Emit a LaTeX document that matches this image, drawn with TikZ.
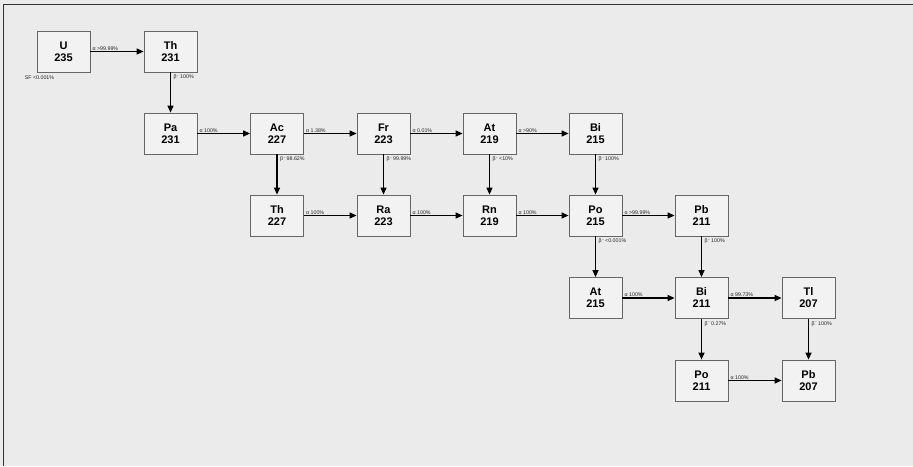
\documentclass[tikz,border=0pt]{standalone}
\usepackage{fontspec}
\setmainfont{Liberation Sans}
\usetikzlibrary{arrows.meta}
\newcommand{\hdecay}[3]{\draw[decay] (#1) -- (#2);
  \node[lab, anchor=south west] at ([xshift=2pt,yshift=1.2pt]#1.east) {#3};}
\newcommand{\vdecay}[3]{\draw[decay] (#1) -- (#2);
  \node[lab, anchor=north west] at ([xshift=3pt,yshift=-2.5pt]#1.south) {#3};}
\newcommand{\bm}{β\raisebox{0.9ex}{\fontsize{3.5}{4}\selectfont –}}
\begin{document}
\begin{tikzpicture}[x=1pt,y=-1pt,
  nuc/.style={draw=black!60, fill=black!5, line width=0.8pt, minimum width=53pt,
    minimum height=41pt, inner sep=0pt, align=center,
    font=\fontsize{11}{12}\selectfont\bfseries},
  decay/.style={-{Triangle[length=7pt,width=6pt]}, line width=1.2pt, black},
  lab/.style={font=\fontsize{5.3}{6}\selectfont, inner sep=0pt, text=black!85}]
\fill[black!8] (0,0) rectangle (913,466);
\useasboundingbox (0,0) rectangle (913,466);
\draw[black!80, line width=1pt] (3,466) -- (3,4.5) -- (913,4.5);
% nodes
\node[nuc] (U)     at (63.5,51.5)  {U\\235};
\node[nuc] (Th231) at (170.5,51.5) {Th\\231};
\node[nuc] (Pa)    at (170.5,133.5) {Pa\\231};
\node[nuc] (Ac)    at (277,133.5)  {Ac\\227};
\node[nuc] (Fr)    at (383.5,133.5) {Fr\\223};
\node[nuc] (At219) at (489.5,133.5) {At\\219};
\node[nuc] (Bi215) at (595.5,133.5) {Bi\\215};
\node[nuc] (Th227) at (277,215.5)  {Th\\227};
\node[nuc] (Ra)    at (383.5,215.5) {Ra\\223};
\node[nuc] (Rn)    at (489.5,215.5) {Rn\\219};
\node[nuc] (Po215) at (595.5,215.5) {Po\\215};
\node[nuc] (Pb211) at (701.5,215.5) {Pb\\211};
\node[nuc] (At215) at (595.5,298)  {At\\215};
\node[nuc] (Bi211) at (701.5,298)  {Bi\\211};
\node[nuc] (Tl)    at (808.5,298)  {Tl\\207};
\node[nuc] (Po211) at (701.5,380.5) {Po\\211};
\node[nuc] (Pb207) at (808.5,380.5) {Pb\\207};
\node[lab, anchor=north west] (sf) at ([xshift=-12pt,yshift=-3pt]U.south west) {SF <0.001\%};
% decays
\hdecay{U}{Th231}{α >99.99\%}
\vdecay{Th231}{Pa}{\bm\ 100\%}
\hdecay{Pa}{Ac}{α 100\%}
\hdecay{Ac}{Fr}{α 1.38\%}
\vdecay{Ac}{Th227}{\bm\ 98.62\%}
\hdecay{Fr}{At219}{α 0.01\%}
\vdecay{Fr}{Ra}{\bm\ 99.99\%}
\hdecay{At219}{Bi215}{α >90\%}
\vdecay{At219}{Rn}{\bm\ <10\%}
\vdecay{Bi215}{Po215}{\bm\ 100\%}
\hdecay{Th227}{Ra}{α 100\%}
\hdecay{Ra}{Rn}{α 100\%}
\hdecay{Rn}{Po215}{α 100\%}
\hdecay{Po215}{Pb211}{α >99.99\%}
\vdecay{Po215}{At215}{\bm\ <0.001\%}
\vdecay{Pb211}{Bi211}{\bm\ 100\%}
\hdecay{At215}{Bi211}{α 100\%}
\hdecay{Bi211}{Tl}{α 99.73\%}
\vdecay{Bi211}{Po211}{\bm\ 0.27\%}
\vdecay{Tl}{Pb207}{\bm\ 100\%}
\hdecay{Po211}{Pb207}{α 100\%}
\end{tikzpicture}
\end{document}
